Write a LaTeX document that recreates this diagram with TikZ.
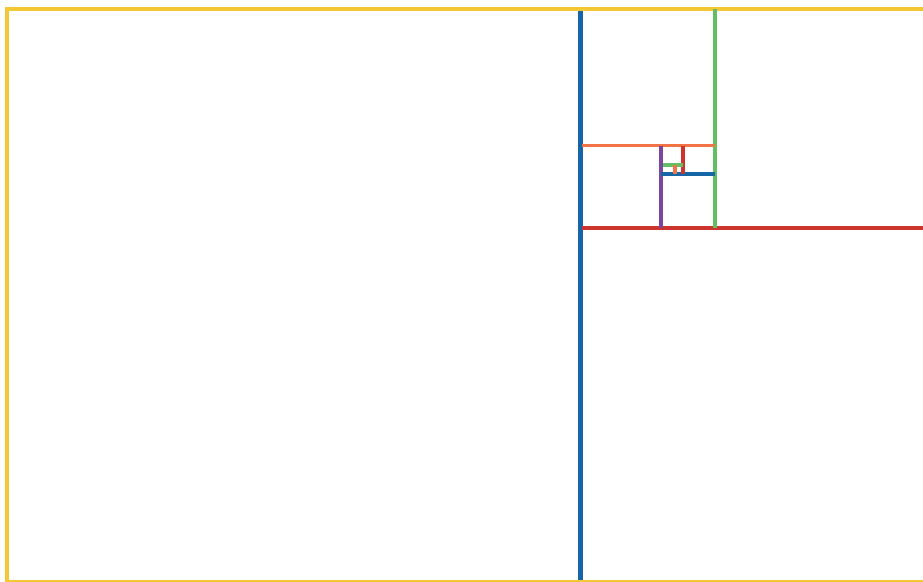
\documentclass[tikz,border=0pt]{standalone}
\definecolor{cyellow}{RGB}{243,200,52}
\definecolor{cblue}{RGB}{22,102,165}
\definecolor{cgreen}{RGB}{100,190,100}
\definecolor{corange}{RGB}{242,116,70}
\definecolor{cred}{RGB}{205,52,45}
\definecolor{cpurple}{RGB}{124,70,160}
\tikzset{seg/.style={line width=3.8pt}}
\begin{document}
\begin{tikzpicture}[x=1pt,y=-1pt]
\useasboundingbox (0,0) rectangle (923,581);
\clip (0,0) rectangle (923,581);
\fill[white] (0,0) rectangle (923,581);
% main divisions
\draw[seg,cblue,line width=4.4pt] (580.5,9) -- (580.5,590);
\draw[cyellow,line width=4pt] (7,8.7) rectangle (936,582);
\draw[seg,cred] (582,227.7) -- (930,227.7);
\draw[seg,cgreen] (714.7,9) -- (714.7,227.7);
\draw[seg,corange] (582,145.5) -- (714.7,145.5);
\draw[seg,cpurple] (661,145.5) -- (661,227.7);
\draw[seg,cblue] (661,174.3) -- (714.7,174.3);
\draw[seg,cred] (682.7,145.5) -- (682.7,174.3);
\draw[seg,cgreen] (662.7,165) -- (682.7,165);
\draw[seg,corange] (674.7,165) -- (674.7,174.3);
\end{tikzpicture}
\end{document}
